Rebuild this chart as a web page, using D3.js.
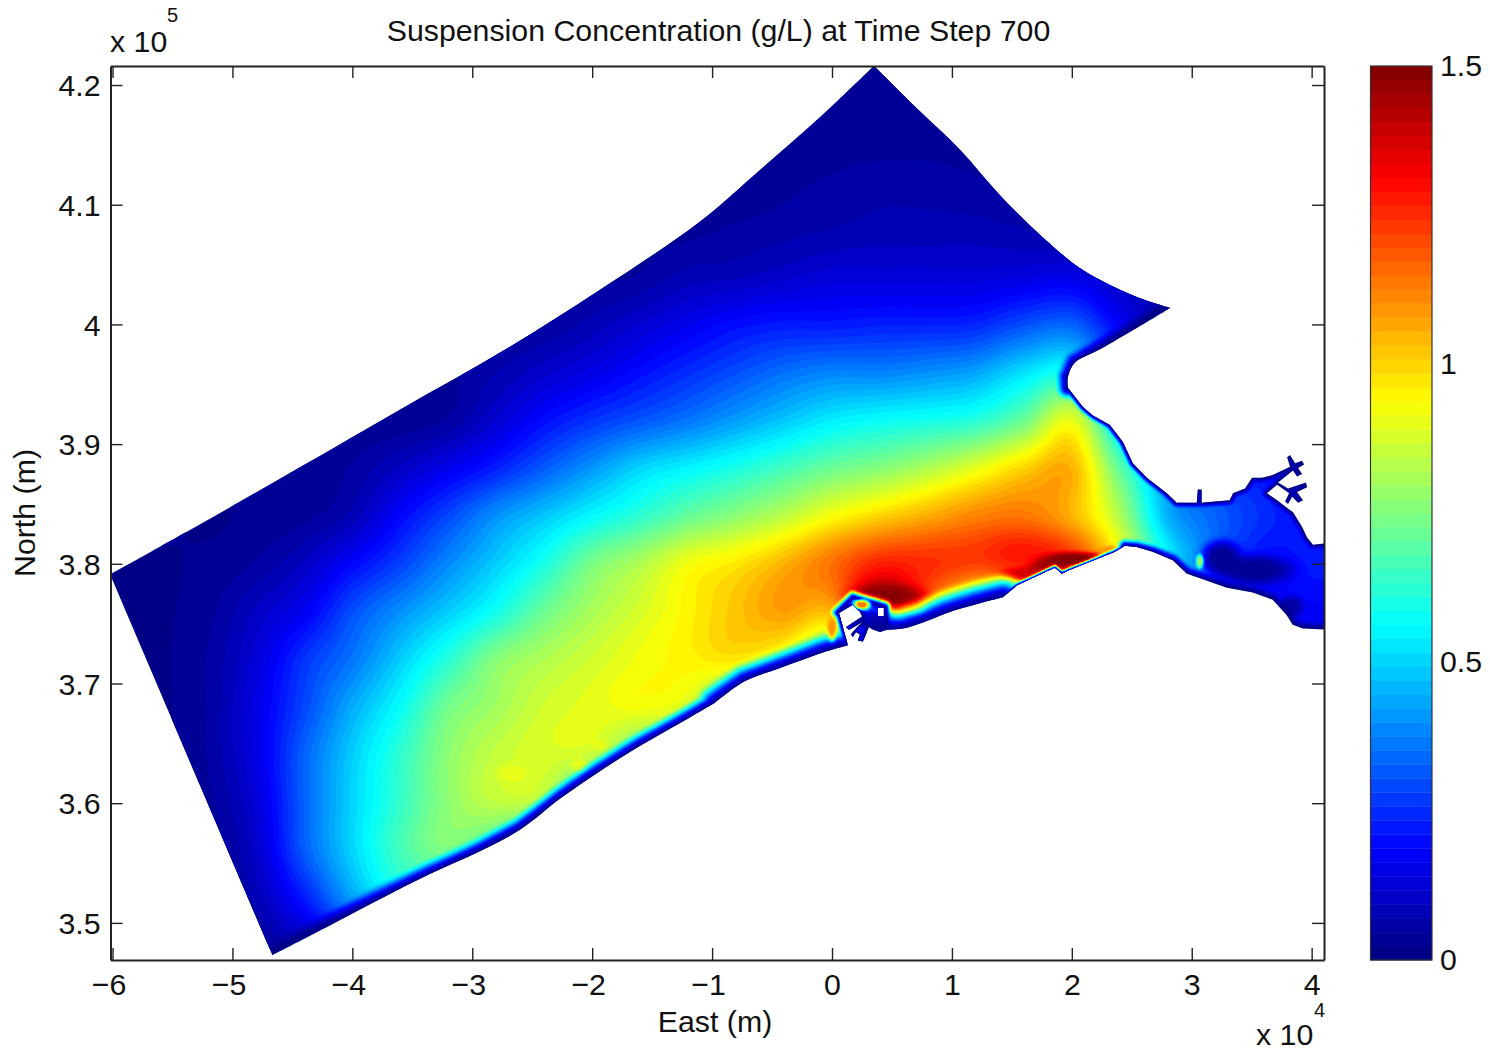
<!DOCTYPE html>
<html><head><meta charset="utf-8">
<script src="https://cdn.jsdelivr.net/npm/d3@7/dist/d3.min.js"></script>
<style>
html,body{margin:0;padding:0;background:#fff}
svg{display:block}
text{font-family:"Liberation Sans",Arial,sans-serif;fill:#111}
</style></head><body>
<div id="chart"></div>
<script>
// ---- Labels and ticks
const chartTitle = "Suspension Concentration (g/L) at Time Step 700";
const xLabel = "East (m)";
const yLabel = "North (m)";
const xTicks = [-6,-5,-4,-3,-2,-1,0,1,2,3,4];      // x 10^4
const yTicks = [3.5,3.6,3.7,3.8,3.9,4,4.1,4.2];    // x 10^5
const cbarTicks = [0,0.5,1,1.5];
const cbarLevels = 64;
const xDomain = [-6.017,4.103];
const yDomain = [3.469,4.2159];
const cDomain = [0,1.5];

// ---- Concentration (g/L), coarse lattice
const fieldEast  = [-6,-5.6,-5.2,-4.8,-4.4,-4,-3.6,-3.2,-2.8,-2.4,-2,-1.6,-1.2,-0.8,-0.4,0,0.4,0.8,1.2,1.6,2,2.4,2.8,3.2,3.6,4,4.4];
const fieldNorth = [4.2,4.16,4.12,4.08,4.04,4,3.96,3.92,3.88,3.84,3.8,3.76,3.72,3.68,3.64,3.6,3.56,3.52,3.48];
const fieldValues = [
[.03,.03,.03,.03,.03,.03,.03,.03,.03,.03,.03,.03,.03,.03,.03,.03,.03,.03,.03,.03,.03,.03,.03,.03,.03,.03,.03],
[.03,.03,.03,.03,.03,.03,.03,.03,.03,.03,.03,.03,.03,.03,.03,.03,.03,.03,.03,.03,.03,.03,.03,.03,.03,.03,.03],
[.03,.03,.03,.03,.03,.03,.03,.03,.03,.03,.03,.03,.03,.03,.04,.05,.06,.06,.05,.04,.04,.04,.04,.04,.04,.04,.04],
[.04,.04,.04,.04,.04,.04,.04,.04,.04,.04,.04,.04,.04,.05,.06,.07,.08,.08,.08,.07,.06,.06,.06,.06,.06,.06,.06],
[.04,.04,.04,.04,.04,.04,.04,.04,.04,.04,.04,.05,.08,.09,.11,.13,.13,.13,.13,.14,.15,.10,.06,.06,.06,.06,.06],
[.04,.04,.04,.04,.04,.04,.04,.04,.04,.05,.08,.12,.16,.20,.22,.22,.23,.23,.24,.30,.33,.18,.08,.08,.08,.08,.08],
[.03,.03,.03,.03,.03,.03,.03,.04,.07,.11,.15,.20,.25,.30,.35,.38,.38,.40,.43,.52,.58,.30,.15,.10,.10,.10,.10],
[.03,.03,.03,.03,.03,.03,.03,.05,.12,.20,.26,.31,.36,.42,.48,.54,.57,.59,.62,.72,.90,.50,.25,.15,.12,.12,.12],
[.03,.03,.03,.03,.03,.05,.10,.16,.23,.32,.41,.50,.55,.60,.66,.72,.76,.82,.90,1.0,1.05,.70,.40,.25,.20,.15,.15],
[.03,.03,.02,.03,.04,.08,.19,.29,.40,.48,.56,.63,.71,.77,.84,.93,1.0,1.06,1.12,1.14,1.05,.82,.45,.33,.25,.20,.20],
[.02,.02,.03,.05,.10,.19,.28,.39,.49,.60,.74,.82,.92,.97,1.05,1.15,1.27,1.25,1.22,1.26,1.20,.90,.55,.32,.20,.22,.22],
[.02,.02,.04,.10,.17,.30,.40,.49,.59,.72,.81,.88,.95,1.02,1.08,1.05,1.40,1.10,.80,.60,.60,.50,.30,.20,.18,.18,.18],
[.02,.02,.05,.13,.26,.36,.49,.62,.76,.82,.87,.92,.95,.97,.90,.70,.60,.60,.60,.60,.60,.50,.30,.20,.18,.18,.18],
[.02,.02,.05,.15,.29,.44,.57,.73,.80,.87,.90,.92,.88,.70,.70,.70,.60,.60,.60,.60,.60,.50,.30,.20,.18,.18,.18],
[.02,.02,.05,.15,.33,.49,.63,.77,.85,.88,.85,.70,.70,.70,.70,.70,.60,.60,.60,.60,.60,.50,.30,.20,.18,.18,.18],
[.02,.02,.04,.13,.33,.50,.64,.77,.84,.80,.50,.50,.50,.50,.50,.50,.50,.50,.50,.50,.50,.50,.30,.20,.18,.18,.18],
[.02,.02,.03,.11,.32,.50,.66,.74,.60,.40,.40,.40,.40,.40,.40,.40,.40,.40,.40,.40,.40,.40,.30,.20,.18,.18,.18],
[.02,.02,.03,.08,.22,.42,.55,.50,.20,.20,.20,.20,.20,.20,.20,.20,.20,.20,.20,.20,.20,.20,.20,.20,.18,.18,.18],
[.02,.02,.03,.04,.10,.20,.20,.08,.08,.08,.08,.08,.08,.08,.08,.08,.08,.08,.08,.08,.08,.08,.08,.08,.08,.08,.08]
];

// ---- Local features too small for the lattice (East, North, radius E, radius N, g/L)
const featureEast   = [.467,.675,.33,1.65,1.817,2.025,2.333,3.25,3.525,3.833,3.067,-2.667,-2.108,-1.933];
const featureNorth  = [3.772,3.762,3.752,3.792,3.798,3.804,3.812,3.805,3.795,3.764,3.802,3.625,3.632,3.649];
const featureRadE   = [.267,.10,.13,.208,.15,.25,.10,.14,.27,.083,.025,.11,.06,.06];
const featureRadN   = [.010,.0042,.0125,.005,.005,.005,.0025,.012,.0105,.0075,.005,.007,.005,.004];
const featureValue  = [1.48,1.40,.10,1.38,1.45,1.50,1.10,.03,.03,.05,.80,.90,.90,.90];
// Small warm pools inside and beside the port, laid over the shoreline rim
const poolEast  = [.25,0];
const poolNorth = [3.766,3.746];
const poolRadE  = [.058,.033];
const poolRadN  = [.0033,.0084];
const poolValue = [1.15,1.10];

// ---- Domain boundary, [East x10^4, North x10^5]
const openWestNorthEdge = [[-6.02,3.791],[-5.27,3.833],[-4.43,3.881],[-3.60,3.929],[-2.725,3.979],[-1.933,4.029],[-1.10,4.086],[-.60,4.129],[-.10,4.173],[.35,4.216]];
const openEastNorthEdge = [[.35,4.216],[.733,4.178],[1.067,4.146],[1.40,4.108],[1.733,4.075],[2.067,4.047],[2.40,4.029],[2.65,4.019],[2.825,4.014]];
const capeShore = [[2.825,4.014],[2.542,3.997],[2.233,3.979],[2.025,3.968],[1.967,3.956],[1.967,3.947]];
const northShore = [[1.967,3.947],[2.092,3.931],[2.175,3.924],[2.317,3.916],[2.425,3.902],[2.508,3.884],[2.625,3.872],[2.792,3.859],[2.875,3.851],[3.042,3.851],[3.05,3.862],[3.083,3.862],[3.083,3.851],[3.317,3.853],[3.344,3.859],[3.444,3.863],[3.503,3.872],[3.586,3.872],[3.670,3.874],[3.820,3.881],[3.795,3.889],[3.820,3.891],[3.862,3.884],[3.920,3.886],[3.937,3.883],[3.887,3.880],[3.920,3.875],[3.878,3.873],[3.845,3.878],[3.720,3.868],[3.803,3.863],[3.953,3.868],[3.962,3.864],[3.878,3.860],[3.928,3.853],[3.887,3.851],[3.837,3.856],[3.803,3.850],[3.778,3.852],[3.812,3.859],[3.712,3.866],[3.628,3.859],[3.712,3.853],[3.845,3.843],[3.920,3.831],[3.962,3.822],[4.012,3.816],[4.117,3.817]];
const baySouthShore = [[4.117,3.745],[3.925,3.746],[3.842,3.749],[3.792,3.757],[3.675,3.770],[3.508,3.776],[3.292,3.780],[3.15,3.785],[2.958,3.792],[2.842,3.803],[2.675,3.810],[2.542,3.814],[2.442,3.815]];
const eastShore = [[2.442,3.815],[2.358,3.810],[2.233,3.805],[1.983,3.795],[1.917,3.792],[1.858,3.797],[1.542,3.782],[1.425,3.772]];
const harbourEastShore = [[1.425,3.772],[1.233,3.767],[.958,3.759],[.758,3.751],[.592,3.746],[.458,3.745]];
const portShore = [[.458,3.745],[.40,3.743],[.342,3.745],[.308,3.747],[.283,3.741],[.258,3.735],[.217,3.736],[.233,3.741],[.20,3.743],[.175,3.739],[.158,3.741],[.217,3.748],[.25,3.751],[.142,3.745],[.117,3.747],[.25,3.756],[.233,3.760],[.175,3.766],[.058,3.759],[.133,3.732]];
const westHarbourShore = [[.133,3.732],[-.075,3.726],[-.433,3.713],[-.725,3.702],[-.975,3.684]];
const southWestShore = [[-.975,3.684],[-1.267,3.667],[-1.60,3.648],[-1.933,3.627],[-2.267,3.604],[-2.60,3.578],[-2.933,3.560],[-3.35,3.541],[-3.767,3.520],[-4.183,3.498],[-4.667,3.473]];
const portWall = [[.05,3.759],[.175,3.772],[.442,3.764],[.458,3.745]];
const portHole = [[.383,3.763],[.433,3.763],[.433,3.756],[.383,3.756]];

// rim widths, in px, over which the concentration falls to the wet/dry edge
const shoreRims = [
 {line:capeShore,w:14},{line:northShore,w:6},{line:baySouthShore,w:9},{line:eastShore,w:4},{line:harbourEastShore,w:28},
 {line:portShore,w:7},{line:portWall,w:9},{line:westHarbourShore,w:22},{line:southWestShore,w:16}];

const W=1490,H=1051,L=110.5,R=1324,T=66,B=960;
const x=d3.scaleLinear().domain(xDomain).range([L,R]);
const y=d3.scaleLinear().domain(yDomain).range([B,T]);

function jet(i,n){const t=(i+.5)/n;const c=v=>Math.round(255*Math.max(0,Math.min(1,v)));
 return d3.rgb(c(Math.min(4*t-1.5,-4*t+4.5)),c(Math.min(4*t-.5,-4*t+3.5)),c(Math.min(4*t+.5,-4*t+2.5))).formatHex();}

const svg=d3.select("#chart").append("svg").attr("width",W).attr("height",H).attr("viewBox",`0 0 ${W} ${H}`);
const smooth=d3.line().x(d=>x(d[0])).y(d=>y(d[1])).curve(d3.curveCatmullRom.alpha(.5));
const straight=d3.line().x(d=>x(d[0])).y(d=>y(d[1]));
const cont=s=>"L"+s.slice(1);
const outlineD=smooth(openWestNorthEdge)+cont(smooth(openEastNorthEdge))+cont(smooth(capeShore))
 +cont(straight(northShore))+cont(straight(baySouthShore))+cont(straight(eastShore))
 +cont(smooth(harbourEastShore))+cont(straight(portShore))+cont(smooth(westHarbourShore))+cont(smooth(southWestShore))+"Z"
 +straight(portHole)+"Z";
const defs=svg.append("defs");
defs.append("clipPath").attr("id","axesClip").append("rect").attr("x",L).attr("y",T).attr("width",R-L).attr("height",B-T);
defs.append("clipPath").attr("id","domainClip").append("path").attr("d",outlineD).attr("clip-rule","evenodd");

// display raster: smooth the lattice, add local features, then the shoreline rim
const step=2,nx=Math.ceil((R-L)/step),ny=Math.ceil((B-T)/step);
const cr=(p0,p1,p2,p3,t)=>.5*((2*p1)+(-p0+p2)*t+(2*p0-5*p1+4*p2-p3)*t*t+(-p0+3*p1-3*p2+p3)*t*t*t);
const ci=d3.scaleLinear().domain(d3.extent(fieldEast)).range([0,fieldEast.length-1]);
const ri=d3.scaleLinear().domain([fieldNorth[0],fieldNorth[fieldNorth.length-1]]).range([0,fieldNorth.length-1]);
const cl=(v,a,b)=>Math.max(a,Math.min(b,v));
function lattice(E,N){
 const u=cl(ci(E),0,fieldEast.length-1.001),v=cl(ri(N),0,fieldNorth.length-1.001);
 const i=Math.floor(u),j=Math.floor(v),s=u-i,t=v-j;const rows=[];
 for(let b=-1;b<=2;b++){const r=fieldValues[cl(j+b,0,fieldNorth.length-1)];
  const g=k=>r[cl(i+k,0,fieldEast.length-1)];rows.push(cr(g(-1),g(0),g(1),g(2),s));}
 return cr(rows[0],rows[1],rows[2],rows[3],t);
}
const segs=[];
shoreRims.forEach(r=>{const pts=r.line.map(d=>[x(d[0]),y(d[1])]);
 for(let i=0;i<pts.length-1;i++)segs.push([pts[i][0],pts[i][1],pts[i+1][0],pts[i+1][1],r.w]);});
function rim(px,py){let f=1;
 for(const [a,b,c,d,w] of segs){
  if(px<Math.min(a,c)-w||px>Math.max(a,c)+w||py<Math.min(b,d)-w||py>Math.max(b,d)+w)continue;
  const dx=c-a,dy=d-b,q=cl(((px-a)*dx+(py-b)*dy)/(dx*dx+dy*dy||1),0,1);
  const dist=Math.hypot(px-a-q*dx,py-b-q*dy);
  if(dist<w){const t=dist/w,s=t*t*(3-2*t),g=.04+.96*s;if(g<f)f=g;}
 }
 return f;}
function blend(v,E,N,es,ns,res,rns,vals){
 for(let k=0;k<es.length;k++){
  const a=(E-es[k])/res[k],b=(N-ns[k])/rns[k],r2=a*a+b*b;
  if(r2<6){const m=Math.exp(-r2*r2*.5);v=v*(1-m)+vals[k]*m;}
 }
 return v;}
const grid=new Float64Array(nx*ny);
for(let j=0;j<ny;j++)for(let i=0;i<nx;i++){
 const px=L+(i+.5)*step,py=T+(j+.5)*step,E=x.invert(px),N=y.invert(py);
 let v=blend(lattice(E,N),E,N,featureEast,featureNorth,featureRadE,featureRadN,featureValue);
 v=Math.max(0,v)*rim(px,py);
 grid[j*nx+i]=blend(v,E,N,poolEast,poolNorth,poolRadE,poolRadN,poolValue);
}
const thresholds=d3.range(cbarLevels).map(i=>i===0?-1:cDomain[0]+(cDomain[1]-cDomain[0])*i/cbarLevels);
const contours=d3.contours().size([nx,ny]).thresholds(thresholds).smooth(true)(grid);
const path=d3.geoPath(d3.geoIdentity().scale(step).translate([L,T]));
svg.append("g").attr("clip-path","url(#axesClip)").append("g").attr("clip-path","url(#domainClip)")
 .selectAll("path").data(contours).join("path").attr("d",path)
 .attr("fill",(d,i)=>jet(i,cbarLevels)).attr("stroke","none");

// axes with inward ticks on all four sides
const FS=30.3,tick=12,ink="#222";
function styleAxis(g){g.selectAll("path.domain").attr("stroke",ink).attr("stroke-width",2);
 g.selectAll(".tick line").attr("stroke",ink).attr("stroke-width",1.4);
 g.selectAll("text").attr("font-size",FS).attr("fill","#111").attr("font-family",'"Liberation Sans",Arial,sans-serif');}
const bottomAxis=svg.append("g").attr("transform",`translate(0,${B})`).call(d3.axisBottom(x).tickValues(xTicks).tickSize(-tick).tickSizeOuter(0).tickFormat(d3.format("d"))).call(styleAxis);
bottomAxis.selectAll(".tick text").attr("y",35).attr("dy",0).attr("dx",d=>d<0?-4:0);
svg.append("g").attr("transform",`translate(0,${T})`).call(d3.axisTop(x).tickValues(xTicks).tickSize(-tick).tickSizeOuter(0).tickFormat("")).call(styleAxis);
const leftAxis=svg.append("g").attr("transform",`translate(${L},0)`).call(d3.axisLeft(y).tickValues(yTicks).tickSize(-tick).tickSizeOuter(0).tickFormat(d=>String(d))).call(styleAxis);
leftAxis.selectAll(".tick text").attr("x",-10).attr("dy","0.35em");
svg.append("g").attr("transform",`translate(${R},0)`).call(d3.axisRight(y).tickValues(yTicks).tickSize(-tick).tickSizeOuter(0).tickFormat("")).call(styleAxis);

const txt=(s,a,b,size,anchor="middle")=>svg.append("text").attr("x",a).attr("y",b).attr("font-size",size).attr("text-anchor",anchor).text(s);
txt(chartTitle,718.5,41,FS);
txt(xLabel,715,1032,FS);
svg.append("text").attr("transform","translate(35,513) rotate(-90)").attr("font-size",FS).attr("text-anchor","middle").text(yLabel);
txt("x 10",110,52,FS,"start");
txt("5",167,22,20,"start");
txt("x 10",1256,1044.5,FS,"start");
txt("4",1314,1017,20,"start");

// colour bar
const cbX=1370.5,cbW=61.5;
const cScale=d3.scaleLinear().domain(cDomain).range([B,T]);
const band=d3.scaleBand().domain(d3.range(cbarLevels)).range([B,T]);
svg.append("g").selectAll("rect").data(d3.range(cbarLevels)).join("rect")
 .attr("x",cbX).attr("width",cbW).attr("y",d=>band(d)).attr("height",band.bandwidth()+.4).attr("fill",d=>jet(d,cbarLevels));
svg.append("rect").attr("x",cbX).attr("y",T).attr("width",cbW).attr("height",B-T).attr("fill","none").attr("stroke","#333").attr("stroke-width",1.2);
const cbAxis=svg.append("g").attr("transform",`translate(${cbX+cbW},0)`).call(d3.axisRight(cScale).tickValues(cbarTicks).tickSize(0).tickPadding(8).tickFormat(d=>String(d)));
cbAxis.select("path.domain").remove();
cbAxis.selectAll("text").attr("font-size",FS).attr("fill","#111").attr("font-family",'"Liberation Sans",Arial,sans-serif');
</script></body></html>
